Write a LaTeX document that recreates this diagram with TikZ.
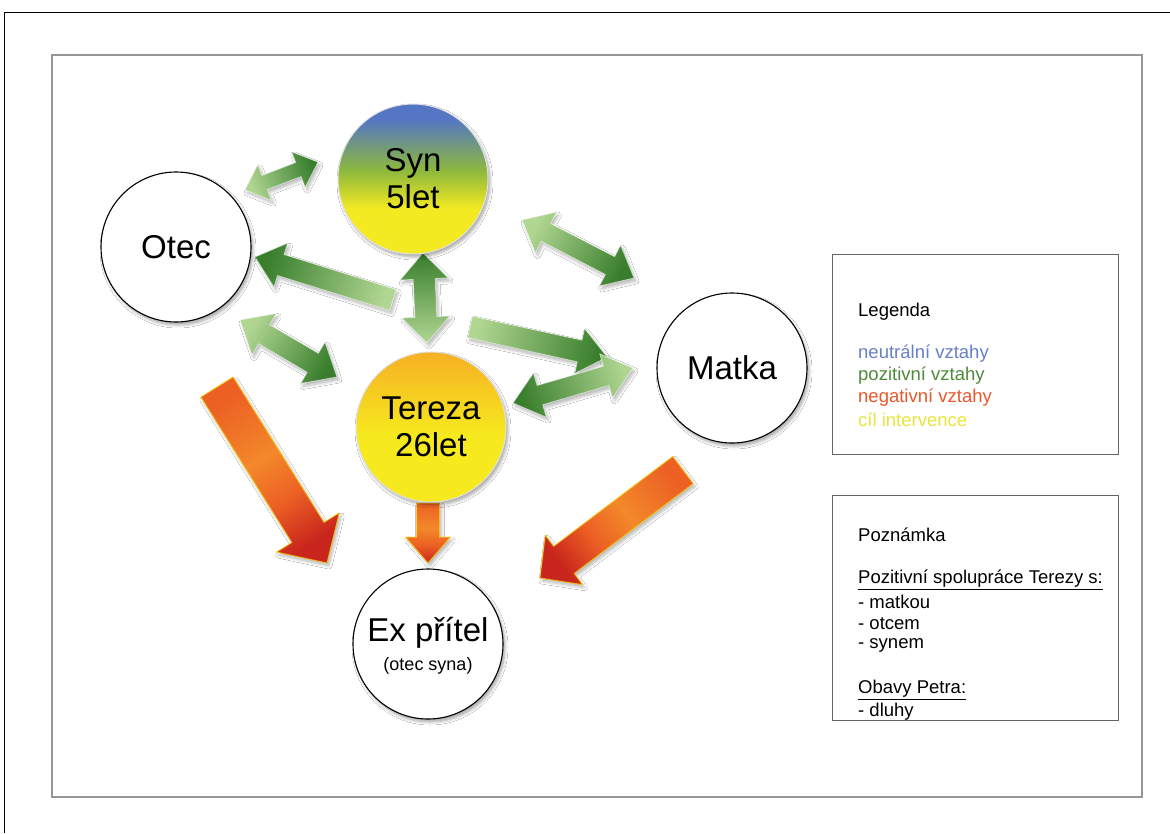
\documentclass[tikz,border=0pt]{standalone}
\usepackage{fontspec}
\setmainfont{Liberation Sans}
\usetikzlibrary{shadows.blur}

% colours
\definecolor{gLight}{RGB}{176,214,146}
\definecolor{gDark}{RGB}{56,126,44}
\definecolor{rTail}{RGB}{236,96,36}
\definecolor{rMid}{RGB}{243,136,42}
\definecolor{rHead}{RGB}{200,38,28}
\definecolor{synB}{RGB}{84,118,196}
\definecolor{synG}{RGB}{140,184,62}
\definecolor{synY}{RGB}{244,234,34}
\definecolor{terO}{RGB}{246,176,36}
\definecolor{terY}{RGB}{246,234,30}
\definecolor{lgBlue}{RGB}{104,128,196}
\definecolor{lgGreen}{RGB}{78,138,58}
\definecolor{lgRed}{RGB}{232,88,43}
\definecolor{lgYellow}{RGB}{233,229,58}
\definecolor{frameGray}{RGB}{150,150,150}

% gradients along an arrow (left = tail, right = tip)
\pgfdeclarehorizontalshading{greenarrow}{100bp}{color(0bp)=(gLight); color(25bp)=(gLight); color(75bp)=(gDark); color(100bp)=(gDark)}
\pgfdeclarehorizontalshading{redarrow}{100bp}{color(0bp)=(rTail); color(25bp)=(rTail); color(46bp)=(rMid); color(60bp)=(rTail); color(75bp)=(rHead); color(100bp)=(rHead)}
% fills of the two coloured circles (bottom to top)
\pgfdeclareverticalshading{synfill}{100bp}{color(0bp)=(synY); color(25bp)=(synY); color(40bp)=(synY); color(53bp)=(synG); color(70bp)=(synB); color(100bp)=(synB)}
\pgfdeclareverticalshading{terfill}{100bp}{color(0bp)=(terY); color(25bp)=(terY); color(47bp)=(terY); color(75bp)=(terO); color(100bp)=(terO)}

\newdimen\arXa \newdimen\arYa \newdimen\arXb \newdimen\arYb
% #1 start, #2 end, #3 shaft half width, #4 head half width, #5 head length,
% #6 shading, #7 1 = single / 2 = double head, #8 edge style
\newcommand\blockarrow[8]{%
  \pgfextractx{\arXa}{\pgfpointanchor{#1}{center}}%
  \pgfextracty{\arYa}{\pgfpointanchor{#1}{center}}%
  \pgfextractx{\arXb}{\pgfpointanchor{#2}{center}}%
  \pgfextracty{\arYb}{\pgfpointanchor{#2}{center}}%
  \pgfmathsetmacro\arAng{atan2(\arYb-\arYa,\arXb-\arXa)}%
  \pgfmathsetmacro\arLen{veclen(\arXb-\arXa,\arYb-\arYa)}%
  \pgfmathsetmacro\arHB{\arLen-#5}%
  \begin{scope}[shift={(#1)},rotate=\arAng]
    \ifnum#7=1
      \shade[arrowbody,#8,shading=#6,shading angle=\arAng] (0pt,-#3pt) -- (\arHB pt,-#3pt) -- (\arHB pt,-#4pt)
        -- (\arLen pt,0pt) -- (\arHB pt,#4pt) -- (\arHB pt,#3pt) -- (0pt,#3pt) -- cycle;
    \else
      \shade[arrowbody,#8,shading=#6,shading angle=\arAng] (0pt,0pt) -- (#5pt,-#4pt) -- (#5pt,-#3pt)
        -- (\arHB pt,-#3pt) -- (\arHB pt,-#4pt) -- (\arLen pt,0pt) -- (\arHB pt,#4pt)
        -- (\arHB pt,#3pt) -- (#5pt,#3pt) -- (#5pt,#4pt) -- cycle;
    \fi
  \end{scope}}

\tikzset{
  arrowbody/.style={line join=round, blur shadow={shadow xshift=2pt, shadow yshift=-3pt,
      shadow opacity=28, shadow blur steps=6, shadow blur radius=3pt}},
  greenedge/.style={draw=white, draw opacity=0.55, line width=0.8pt},
  rededge/.style={draw=yellow!70!orange, draw opacity=0.7, line width=1pt},
  person/.style={circle, draw=black, line width=1.1pt, fill=white, minimum size=150pt,
      inner sep=0pt, align=center, font=\fontsize{33}{37}\selectfont,
      blur shadow={shadow xshift=2pt, shadow yshift=-3pt, shadow opacity=35,
      shadow blur steps=6, shadow blur radius=3pt}},
  child/.style={person, draw=white!88!black, line width=1pt, shade},
  boxframe/.style={draw=black!60, line width=0.9pt},
  boxtext/.style={anchor=west, inner sep=0pt, font=\fontsize{18.5}{22}\selectfont}
}

\begin{document}
\begin{tikzpicture}[x=1pt,y=-1pt]
\useasboundingbox (0,0) rectangle (1170,833);
\fill[white] (0,0) rectangle (1170,833);

% page frame
\draw[black, line width=1pt] (4,833) -- (4,12) -- (1170,12);
\draw[frameGray, line width=1.3pt] (52,55) rectangle (1142,797);

% arrow end points
\coordinate (a1s) at (245,190); \coordinate (a1e) at (318,162);
\coordinate (a2s) at (393,300); \coordinate (a2e) at (255,257);
\coordinate (a3s) at (427,343); \coordinate (a3e) at (423,253);
\coordinate (a4s) at (522,220); \coordinate (a4e) at (634,278);
\coordinate (a5s) at (470,327); \coordinate (a5e) at (607,357);
\coordinate (a6s) at (240,320); \coordinate (a6e) at (337,377);
\coordinate (a7s) at (633,368); \coordinate (a7e) at (513,403);
\coordinate (r1s) at (217,387); \coordinate (r1e) at (327,563);
\coordinate (r2s) at (428,503); \coordinate (r2e) at (428,563);
\coordinate (r3s) at (683,470); \coordinate (r3e) at (540,578);

% positive relations
\blockarrow{a1s}{a1e}{7.5}{19}{21}{greenarrow}{2}{greenedge}
\blockarrow{a2s}{a2e}{11}{23}{27}{greenarrow}{1}{greenedge}
\blockarrow{a3s}{a3e}{11}{24}{26}{greenarrow}{2}{greenedge}
\blockarrow{a4s}{a4e}{10}{23}{27}{greenarrow}{2}{greenedge}
\blockarrow{a5s}{a5e}{11}{23}{28}{greenarrow}{1}{greenedge}
\blockarrow{a6s}{a6e}{11}{24}{28}{greenarrow}{2}{greenedge}
\blockarrow{a7s}{a7e}{10}{23}{28}{greenarrow}{2}{greenedge}
% negative relations
\blockarrow{r1s}{r1e}{19}{37}{36}{redarrow}{1}{rededge}
\blockarrow{r2s}{r2e}{11.5}{22.5}{26}{redarrow}{1}{rededge}
\blockarrow{r3s}{r3e}{17}{31}{30}{redarrow}{1}{rededge}

% people
\node[person] (otec) at (176,247) {Otec};
\node[person] (matka) at (732,368) {Matka};
\node[child, shading=synfill] (syn) at (413,179) {Syn\\5let};
\node[child, shading=terfill] (tereza) at (431,427) {Tereza\\26let};
\node[person] (ex) at (428,644) {};
\node[font=\fontsize{33}{37}\selectfont, inner sep=0pt] (exname) at (428,633) {Ex přítel};
\node[font=\fontsize{18}{22}\selectfont, inner sep=0pt] (exnote) at (428,666) {(otec syna)};

% legend
\node[boxframe, minimum width=286pt, minimum height=200pt, inner sep=0pt] (legend) at (975,354) {};
\node[boxtext] (lg0) at (858,312) {Legenda};
\node[boxtext, text=lgBlue] (lg1) at (858,354) {neutrální vztahy};
\node[boxtext, text=lgGreen] (lg2) at (858,376) {pozitivní vztahy};
\node[boxtext, text=lgRed] (lg3) at (858,398) {negativní vztahy};
\node[boxtext, text=lgYellow] (lg4) at (858,420) {cíl intervence};

% note
\node[boxframe, minimum width=286pt, minimum height=225pt, inner sep=0pt] (note) at (975,607.5) {};
\node[boxtext] (n0) at (858,535) {Poznámka};
\node[boxtext] (n1) at (858,580) {\underline{Pozitivní spolupráce Terezy s:}};
\node[boxtext] (n2) at (858,602) {- matkou};
\node[boxtext] (n3) at (858,624) {- otcem};
\node[boxtext] (n4) at (858,645) {- synem};
\node[boxtext] (n5) at (858,690) {\underline{Obavy Petra:}};
\node[boxtext] (n6) at (858,712) {- dluhy};
\end{tikzpicture}
\end{document}
